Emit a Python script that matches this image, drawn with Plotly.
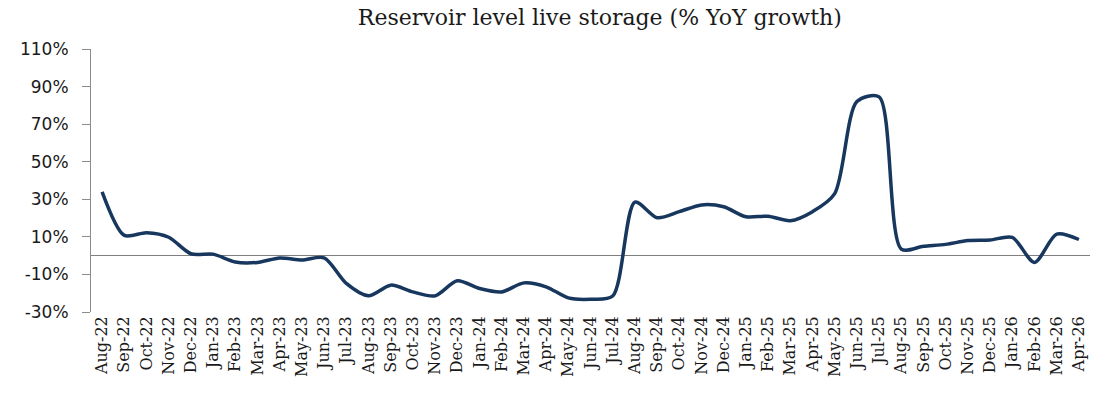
import plotly.graph_objects as go

months = ["Aug-22","Sep-22","Oct-22","Nov-22","Dec-22","Jan-23","Feb-23","Mar-23","Apr-23","May-23",
          "Jun-23","Jul-23","Aug-23","Sep-23","Oct-23","Nov-23","Dec-23","Jan-24","Feb-24","Mar-24",
          "Apr-24","May-24","Jun-24","Jul-24","Aug-24","Sep-24","Oct-24","Nov-24","Dec-24","Jan-25",
          "Feb-25","Mar-25","Apr-25","May-25","Jun-25","Jul-25","Aug-25","Sep-25","Oct-25","Nov-25",
          "Dec-25","Jan-26","Feb-26","Mar-26","Apr-26"]
yoy_growth = [34, 10.8, 12.2, 9.8, 1.0, 0.8, -3.4, -3.6, -1.2, -2.3,
              -1.2, -14.8, -21.4, -15.7, -19.3, -21.4, -13.4, -17.5, -19.3, -14.5,
              -16.6, -22.5, -23.2, -21.5, 28.5, 20.2, 23.4, 27.0, 26.0, 20.7,
              21.0, 18.6, 23.4, 33.0, 82.0, 84.5, 3.5, 5.0, 6.0, 8.0,
              8.3, 9.7, -3.6, 11.5, 8.6]
y_tick_vals = [-30, -10, 10, 30, 50, 70, 90, 110]
y_tick_text = ["-30%", "-10%", "10%", "30%", "50%", "70%", "90%", "110%"]

fig = go.Figure()
fig.add_trace(go.Scatter(
    x=months, y=yoy_growth, mode="lines",
    line=dict(color="#17375E", width=3.5, shape="spline", smoothing=0.8),
    hoverinfo="x+y", showlegend=False,
))

fig.update_layout(
    width=1119, height=400,
    margin=dict(l=91, r=29, t=49, b=88),
    paper_bgcolor="white", plot_bgcolor="white",
    title=dict(text="Reservoir level live storage (% YoY growth)",
               xref="container", x=0.536, xanchor="center",
               yref="container", y=0.976, yanchor="top", pad=dict(t=0, b=0),
               font=dict(family="DejaVu Serif", size=22, color="#1a1a1a")),
)
fig.update_xaxes(
    type="category", range=[-0.5, 44.5],
    showline=False, showgrid=False, zeroline=False, ticks="",
    tickangle=-90,
    tickfont=dict(family="DejaVu Serif", size=16, color="#1a1a1a"),
)
fig.update_yaxes(
    range=[-30, 110], tickvals=y_tick_vals, ticktext=y_tick_text,
    showline=True, linecolor="#8c8c8c", linewidth=1,
    ticks="outside", ticklen=8, tickcolor="#8c8c8c",
    showgrid=False,
    zeroline=True, zerolinecolor="#7f7f7f", zerolinewidth=1,
    ticklabelstandoff=10,
    tickfont=dict(family="DejaVu Sans", size=17, color="#1a1a1a"),
)

fig.write_html("out.html", config={"displayModeBar": False},
               post_script="document.body.style.margin='0';")
